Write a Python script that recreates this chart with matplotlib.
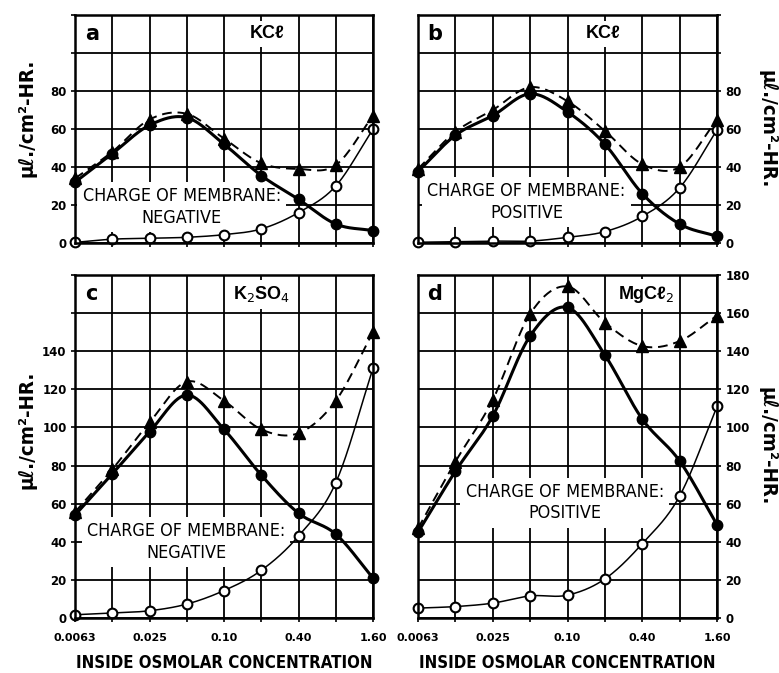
import numpy as np
import matplotlib
matplotlib.use("Agg")
import matplotlib.pyplot as plt
from matplotlib import font_manager
from matplotlib.font_manager import FontProperties

# look for a condensed face, otherwise fall back to Liberation Sans
cond_reg, cond_bold = None, None
for f in font_manager.fontManager.ttflist:
    fn = f.fname.lower()
    if ("narrow" in fn or "condensed" in fn) and "oblique" not in fn and "italic" not in fn:
        if "bold" in fn and cond_bold is None:
            cond_bold = f.fname
        elif "bold" not in fn and cond_reg is None:
            cond_reg = f.fname

def fp_box():
    return FontProperties(fname=cond_reg, size=13) if cond_reg else FontProperties(family="Liberation Sans", size=12)

def fp_bold():
    return FontProperties(fname=cond_bold, size=13) if cond_bold else FontProperties(family="Liberation Sans", weight="bold", size=12)

plt.rcParams['font.family'] = ['Liberation Sans', 'DejaVu Sans']

# ---- data ----
conc = [0.00625, 0.0125, 0.025, 0.05, 0.10, 0.20, 0.40, 0.80, 1.60]
xtick_labels = ["0.0063", "", "0.025", "", "0.10", "", "0.40", "", "1.60"]

a_filled = [32, 47, 62, 66, 52, 35.5, 23, 10, 6.5]
a_tri    = [34, 48, 65, 68, 55, 42, 39, 41, 67]
a_open   = [0.3, 2, 2.5, 3, 4.4, 7.4, 16, 30, 60]

b_filled = [37.6, 56.7, 67, 78.5, 69, 52, 26, 10, 3.5]
b_tri    = [39, 58.5, 70, 82, 74.6, 59, 41.5, 40, 65]
b_open   = [0.4, 0.7, 1, 1, 3, 6, 14, 29, 59.5]

c_filled = [54, 75.6, 97.7, 117, 99, 75, 55, 44, 21]
c_tri    = [55.6, 78, 102.6, 124, 114, 99, 97, 114, 150]
c_open   = [1.7, 2.6, 3.8, 7.3, 14.4, 25, 43, 71, 131]

d_filled = [45, 77, 106, 148, 163, 138, 104.4, 82.4, 49]
d_tri    = [47, 82, 114.5, 159.6, 174, 155, 142.7, 145.3, 158.7]
d_open   = [5.2, 6, 7.8, 11.6, 12, 20.5, 39, 64, 111]

panels = [
    dict(key="a", salt="KCℓ", charge="NEGATIVE", ymax=120, yticks=[0, 20, 40, 60, 80],
         side="left", bottom=False, filled=a_filled, tri=a_tri, opn=a_open,
         box=(2.87, 19), saltx=5.15),
    dict(key="b", salt="KCℓ", charge="POSITIVE", ymax=120, yticks=[0, 20, 40, 60, 80],
         side="right", bottom=False, filled=b_filled, tri=b_tri, opn=b_open,
         box=(2.9, 21.6), saltx=4.95),
    dict(key="c", salt=r"K$_2$SO$_4$", charge="NEGATIVE", ymax=180,
         yticks=[0, 20, 40, 60, 80, 100, 120, 140],
         side="left", bottom=True, filled=c_filled, tri=c_tri, opn=c_open,
         box=(2.98, 40), saltx=5.0),
    dict(key="d", salt=r"MgCℓ$_2$", charge="POSITIVE", ymax=180,
         yticks=[0, 20, 40, 60, 80, 100, 120, 140, 160, 180],
         side="right", bottom=True, filled=d_filled, tri=d_tri, opn=d_open,
         box=(3.93, 60.5), saltx=6.1),
]

W, H = 779, 673
fig = plt.figure(figsize=(W / 100, H / 100), dpi=100)

rects = {
    "a": (75, 15, 373, 243),
    "b": (418, 15, 717, 243),
    "c": (75, 275, 373, 618),
    "d": (418, 275, 717, 618),
}


def catmull(xs, ys, n=30):
    xs = np.asarray(xs, float)
    ys = np.asarray(ys, float)
    px = np.concatenate([[2 * xs[0] - xs[1]], xs, [2 * xs[-1] - xs[-2]]])
    py = np.concatenate([[2 * ys[0] - ys[1]], ys, [2 * ys[-1] - ys[-2]]])
    ox, oy = [], []
    for i in range(1, len(px) - 2):
        t = np.linspace(0, 1, n, endpoint=False)
        for P, out in ((px, ox), (py, oy)):
            p0, p1, p2, p3 = P[i - 1], P[i], P[i + 1], P[i + 2]
            out.extend(0.5 * ((2 * p1) + (-p0 + p2) * t
                              + (2 * p0 - 5 * p1 + 4 * p2 - p3) * t ** 2
                              + (-p0 + 3 * p1 - 3 * p2 + p3) * t ** 3))
    ox.append(xs[-1]); oy.append(ys[-1])
    return np.array(ox), np.array(oy)


u = np.log2(np.array(conc) / conc[0])

def to_x(uu):
    return conc[0] * 2.0 ** np.asarray(uu)

ylab = "μℓ./cm²-HR."
fit = []  # (text artist, target length in px, measure along 'w' or 'h')

for p in panels:
    l, t, r, b = rects[p["key"]]
    ax = fig.add_axes([l / W, 1 - b / H, (r - l) / W, (b - t) / H])
    ax.set_xscale("log", base=2)
    ax.set_xlim(conc[0], conc[-1])
    ax.set_ylim(0, p["ymax"])
    ax.set_xticks(conc)
    ax.minorticks_off()
    ax.set_yticks(list(range(0, p["ymax"] + 1, 20)))
    ax.grid(True, color="black", linewidth=1.3, zorder=1)
    ax.set_axisbelow(True)
    for s in ax.spines.values():
        s.set_linewidth(1.8)
        s.set_zorder(6)
    ax.tick_params(axis="both", length=3, width=1.2, color="black", pad=3)
    ax.tick_params(axis="x", pad=8)
    ylabels = [str(v) if v in p["yticks"] else "" for v in range(0, p["ymax"] + 1, 20)]
    ax.set_yticklabels(ylabels, fontsize=8.5, fontweight="bold", family="DejaVu Sans")
    if p["side"] == "right":
        ax.yaxis.tick_right()
        ax.yaxis.set_label_position("right")
        ax.set_ylabel(ylab, rotation=-90, va="center", ha="center", fontproperties=fp_bold())
        ax.yaxis.set_label_coords((767 - l) / (r - l), 0.5)
    else:
        ax.set_ylabel(ylab, va="center", ha="center", fontproperties=fp_bold())
        ax.yaxis.set_label_coords((27 - l) / (r - l), 0.55)
    fit.append((ax.yaxis.label, 118, "h"))
    if p["bottom"]:
        ax.set_xticklabels(xtick_labels, fontsize=8, fontweight="bold", family="DejaVu Sans")
        ax.set_xlabel("INSIDE OSMOLAR CONCENTRATION", va="center", fontproperties=fp_bold())
        ax.xaxis.set_label_coords(0.5, -(663 - b) / (b - t))
        fit.append((ax.xaxis.label, 297, "w"))
    else:
        ax.set_xticklabels([])

    # curves
    sx, sy = catmull(u, p["filled"])
    ax.plot(to_x(sx), sy, color="black", lw=2.2, zorder=3)
    tx, ty = catmull(u, p["tri"])
    ax.plot(to_x(tx), ty, color="black", lw=1.4, ls=(0, (5, 3)), zorder=3)
    ox, oy = catmull(u, p["opn"])
    ax.plot(to_x(ox), oy, color="black", lw=1.1, zorder=3)

    ax.plot(conc, p["tri"], ls="none", marker="^", ms=8, color="black", zorder=4, clip_on=False)
    ax.plot(conc, p["filled"], ls="none", marker="o", ms=7.5, color="black", zorder=5, clip_on=False)
    ax.plot(conc, p["opn"], ls="none", marker="o", ms=7, mfc="white", mec="black", mew=1.5,
            zorder=5, clip_on=False)

    # labels
    ym = p["ymax"]
    ax.text(to_x(0.45), ym - 10, p["key"], fontsize=15, fontweight="bold",
            family="DejaVu Sans", ha="center", va="center", zorder=2)
    ax.text(to_x(p["saltx"]), ym - 10, p["salt"], fontsize=13, fontweight="bold",
            ha="center", va="center", zorder=2,
            bbox=dict(boxstyle="square,pad=0.25", fc="white", ec="none"))
    bx, by = p["box"]
    bt = ax.text(to_x(bx), by, "CHARGE OF MEMBRANE:\n" + p["charge"],
                 ha="center", va="center", multialignment="center", linespacing=1.25,
                 zorder=2, clip_on=True, fontproperties=fp_box(),
                 bbox=dict(boxstyle="square,pad=0.3", fc="white", ec="none"))
    fit.append((bt, 198, "w"))

# scale text sizes so that their extents match the reference
fig.canvas.draw()
renderer = fig.canvas.get_renderer()
for _ in range(2):
    for art, target, dim in fit:
        bb = art.get_window_extent(renderer)
        cur = bb.width if dim == "w" else bb.height
        if cur > 0:
            art.set_fontsize(art.get_fontsize() * target / cur)
    fig.canvas.draw()

fig.savefig("out.png", dpi=100)
